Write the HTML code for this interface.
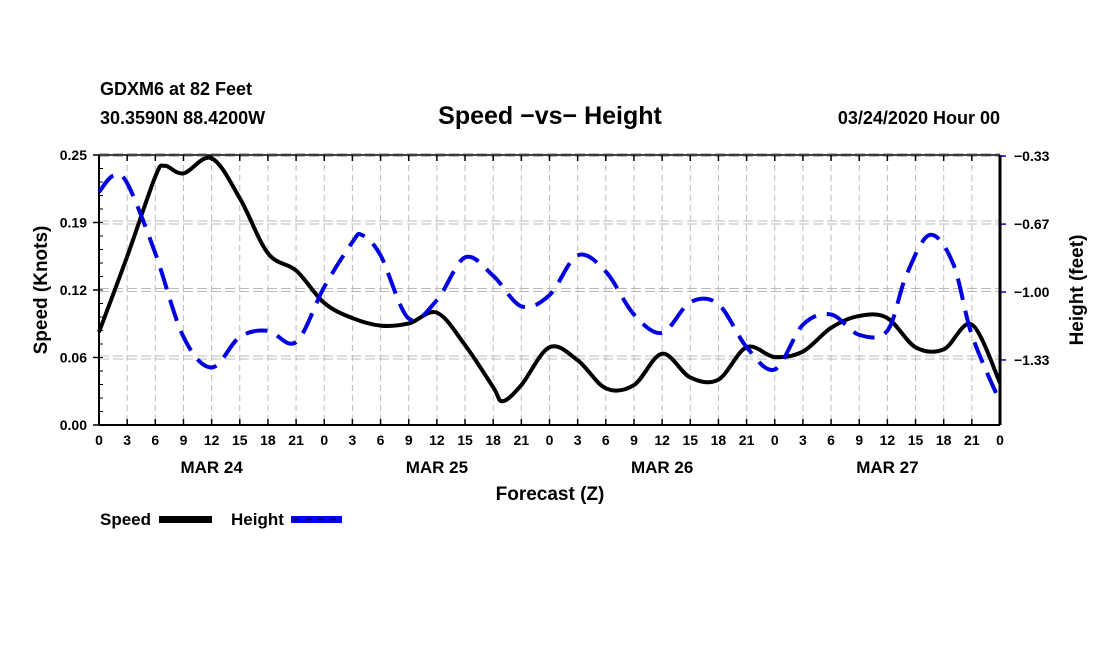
<!DOCTYPE html>
<html><head><meta charset="utf-8"><style>
html,body{margin:0;padding:0;background:#fff;}
svg{display:block;font-family:"Liberation Sans",sans-serif;font-weight:bold;}
</style></head><body>
<svg id="chart" width="1100" height="650" viewBox="0 0 1100 650">
<text x="100" y="95" font-size="18">GDXM6 at 82 Feet</text>
<text x="100" y="124" font-size="18">30.3590N 88.4200W</text>
<text x="550" y="124" font-size="25" text-anchor="middle">Speed −vs− Height</text>
<text x="1000" y="124" font-size="18" text-anchor="end">03/24/2020 Hour 00</text>
<g id="grid"></g>
<g id="axes"></g>
<g id="series"></g>
<text x="47" y="290" font-size="19" text-anchor="middle" transform="rotate(-90 47 290)">Speed (Knots)</text>
<text x="1083" y="290" font-size="19" text-anchor="middle" transform="rotate(-90 1083 290)">Height (feet)</text>
<text x="550" y="500" font-size="19" text-anchor="middle">Forecast (Z)</text>
<g>
<text x="100" y="525" font-size="17">Speed</text>
<rect x="159" y="516" width="53" height="7" fill="#000"/>
<text x="231" y="525" font-size="17">Height</text>
<rect x="291" y="516" width="51" height="7" fill="#00f"/>
<line x1="293" y1="519.5" x2="340" y2="519.5" stroke="#000" stroke-width="1.5" stroke-dasharray="7,5"/>
</g>
</svg>
<script>
const hours=[0,3,6,7,9,12,15,18,21,24,27,30,33,36,39,42,43,45,48,51,54,57,60,63,66,69,72,75,78,81,84,87,90,93,96];
const speed=[0.086,0.156,0.230,0.240,0.233,0.247,0.21,0.159,0.143,0.113,0.099,0.092,0.094,0.104,0.074,0.035,0.022,0.037,0.072,0.060,0.034,0.037,0.066,0.044,0.042,0.072,0.063,0.068,0.090,0.101,0.099,0.072,0.070,0.093,0.039];
const hHours=[0,1.5,3,6,9,12,15,18,21,24,27,28,30,33,36,39,42,45,48,51,54,57,60,63,66,69,72,75,78,81,84,86,88.5,91,93,96];
const height=[-0.51,-0.43,-0.466,-0.81,-1.22,-1.37,-1.22,-1.19,-1.245,-0.975,-0.755,-0.72,-0.82,-1.13,-1.04,-0.83,-0.92,-1.07,-1.015,-0.82,-0.90,-1.11,-1.2,-1.05,-1.06,-1.27,-1.38,-1.16,-1.11,-1.21,-1.19,-0.92,-0.72,-0.86,-1.21,-1.54];
const speedTicks=[0,0.0625,0.125,0.1875,0.25];
const speedLabels=["0.00","0.06","0.12","0.19","0.25"];
const heightTicks=[-1.333,-1.0,-0.667,-0.333];
const heightLabels=["−1.33","−1.00","−0.67","−0.33"];
const dayLabels=["MAR 24","MAR 25","MAR 26","MAR 27"];
const L=99,R=1000,T=155,B=425;
const NS="http://www.w3.org/2000/svg";
const xS=h=>L+(R-L)*h/96;
const yS=v=>B-(B-T)*v/0.25;
const yH=v=>B-(B-T)*(v+1.652)/(1.652-0.328);
function mk(tag,attrs,parent){const e=document.createElementNS(NS,tag);for(const k in attrs)e.setAttribute(k,attrs[k]);parent.appendChild(e);return e;}
const grid=document.getElementById('grid'),axes=document.getElementById('axes'),series=document.getElementById('series');
for(let h=0;h<=96;h+=3){
 const x=xS(h);
 if(h>0&&h<96){const g=mk('line',{x1:x,y1:T,x2:x,y2:B,stroke:'#bbb','stroke-width':1,'stroke-dasharray':'6,4'},grid);
 
 }
 mk('line',{x1:x,y1:B,x2:x,y2:B-6,stroke:'#000','stroke-width':1.5},axes);
 mk('line',{x1:x,y1:T,x2:x,y2:T+6,stroke:'#000','stroke-width':1.5},axes);
 const t=mk('text',{x:x,y:B+20,'font-size':14,'text-anchor':'middle'},axes);t.textContent=String(h%24);
 
 
}
dayLabels.forEach((d,i)=>{const t=mk('text',{x:xS(12+24*i),y:B+48,'font-size':17,'text-anchor':'middle'},axes);t.textContent=d;
 
 });
speedTicks.forEach((v,i)=>{const y=yS(v);
 if(v>0){[-1.5,1.5].forEach(o=>{const g=mk('line',{x1:L,y1:y+o,x2:R,y2:y+o,stroke:'#bbb','stroke-width':1,'stroke-dasharray':'10,4'},grid);
 
 });}
 mk('line',{x1:L-6,y1:y,x2:L,y2:y,stroke:'#000','stroke-width':1.5},axes);
 const t=mk('text',{x:L-12,y:y+5,'font-size':14,'text-anchor':'end'},axes);t.textContent=speedLabels[i];
 
 });
for(let v=0;v<=0.25;v+=0.25/20){mk('line',{x1:L,y1:yS(v),x2:L+4,y2:yS(v),stroke:'#000','stroke-width':1},axes);}
heightTicks.forEach((v,i)=>{const y=yH(v);
 mk('line',{x1:R,y1:y,x2:R+6,y2:y,stroke:'#00c','stroke-width':1.5},axes);
 const t=mk('text',{x:R+14,y:y+5,'font-size':14},axes);t.textContent=heightLabels[i];
 
 });
mk('line',{x1:L,y1:T,x2:R,y2:T,stroke:'#000','stroke-width':1.5},axes);
mk('line',{x1:L,y1:B,x2:R,y2:B,stroke:'#000','stroke-width':2},axes);
mk('line',{x1:L,y1:T,x2:L,y2:B,stroke:'#000','stroke-width':2},axes);
mk('line',{x1:R,y1:T,x2:R,y2:B,stroke:'#000','stroke-width':3},axes);
function smooth(pts){let d='M'+pts[0][0]+','+pts[0][1];
 for(let i=0;i<pts.length-1;i++){const p0=pts[Math.max(0,i-1)],p1=pts[i],p2=pts[i+1],p3=pts[Math.min(pts.length-1,i+2)];
 d+=' C'+(p1[0]+(p2[0]-p0[0])/6)+','+(p1[1]+(p2[1]-p0[1])/6)+' '+(p2[0]-(p3[0]-p1[0])/6)+','+(p2[1]-(p3[1]-p1[1])/6)+' '+p2[0]+','+p2[1];}
 return d;}
const sp=mk('path',{d:smooth(hours.map((h,i)=>[xS(h),yS(speed[i])])),fill:'none',stroke:'#000','stroke-width':4},series);


const hp=mk('path',{d:smooth(hHours.map((h,i)=>[xS(h),yH(height[i])])),fill:'none',stroke:'#0000e0','stroke-width':4,'stroke-dasharray':'22,11'},series);


</script>
</body></html>
